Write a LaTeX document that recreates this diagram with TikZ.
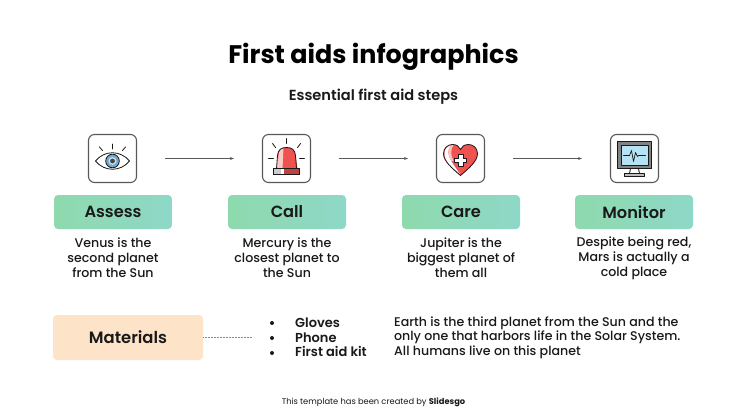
\documentclass[tikz,border=0pt]{standalone}
\usepackage{fontspec}
\setmainfont{Poppins}
\usetikzlibrary{arrows.meta}
\definecolor{ink}{HTML}{191919}
\definecolor{lineg}{HTML}{595959}
\definecolor{peach}{HTML}{FDE3C8}
\definecolor{gl}{HTML}{8FD9AE}
\definecolor{gr}{HTML}{8ED8C8}
\definecolor{redA}{HTML}{EF5350}
\definecolor{redB}{HTML}{F8A5A0}
\definecolor{blueA}{HTML}{B5E3F5}
\definecolor{blueB}{HTML}{3F7FB5}
\newfontfamily\semifont{Poppins SemiBold}
\newfontfamily\medfont{Poppins Medium}
\tikzset{
  iconbox/.style={draw=lineg,line width=1.1pt,rounded corners=6pt,minimum width=48pt,minimum height=48pt,inner sep=0pt,fill=white},
  stepbox/.style={rounded corners=4pt,minimum width=118pt,minimum height=34pt,inner sep=0pt,left color=gl,right color=gr,text=ink,font=\semifont\fontsize{16.2}{19}\selectfont},
  matbox/.style={rounded corners=4pt,minimum width=150pt,minimum height=45pt,inner sep=0pt,fill=peach,text=ink,font=\semifont\fontsize{16.4}{19}\selectfont},
  body/.style={align=center,text=ink,font=\fontsize{12.9}{15}\selectfont,inner sep=0pt},
  bodyl/.style={align=left,anchor=west,text=ink,font=\fontsize{12.9}{14.6}\selectfont,inner sep=0pt},
  link/.style={draw=lineg,line width=0.8pt,-{Stealth[length=4pt,width=3pt]},shorten <=28pt,shorten >=28pt},
  ic/.style={draw=ink,line width=0.8pt,line cap=round,line join=round},
}
\begin{document}
\begin{tikzpicture}[x=1pt,y=-1pt]
\useasboundingbox (0,0) rectangle (747,420);
\fill[white] (0,0) rectangle (747,420);
\node[inner sep=0pt,text=black,font=\fontsize{25.4}{29}\selectfont\bfseries] (title) at (373.5,57) {First aids infographics};
\node[inner sep=0pt,text=ink,font=\semifont\fontsize{14.6}{17}\selectfont] (sub) at (373.5,97) {Essential first aid steps};

\node[iconbox] (i1) at (112.5,158.5) {};
\node[iconbox] (i2) at (286.5,158.5) {};
\node[iconbox] (i3) at (460.5,158.5) {};
\node[iconbox] (i4) at (634.5,158.5) {};
\draw[link] (i1) -- (i2);
\draw[link] (i2) -- (i3);
\draw[link] (i3) -- (i4);

% eye
\begin{scope}[shift={(112.5,161)}]
\draw[ic,fill=white] (-17,0) .. controls (-8,-11) and (8,-11) .. (17,0) .. controls (8,11) and (-8,11) .. (-17,0) -- cycle;
\fill[blueB!70] (0,0) circle (6.8pt);
\draw[ic] (0,0) circle (6.8pt);
\fill[blueA] (0,0) circle (4pt);
\fill[ink!80] (0,0) circle (2.4pt);
\draw[ic] (0,-12) -- (0,-17);
\draw[ic] (-10,-10.5) -- (-13,-14);
\draw[ic] (10,-10.5) -- (13,-14);
\end{scope}

% siren
\begin{scope}[shift={(286.5,159.5)}]
\fill[redA] (-9,9) -- (-9,-4) .. controls (-9,-10) and (-5,-12) .. (0,-12) .. controls (5,-12) and (9,-10) .. (9,-4) -- (11,9) -- cycle;
\fill[redB!60!white] (-9,9) -- (-8,-4) .. controls (-7.5,-9) and (-5,-11.5) .. (-3,-11.5) -- (-4,9) -- cycle;
\draw[ic] (-10,9) -- (-9,-4) .. controls (-8.5,-10) and (-5,-12) .. (0,-12) .. controls (5,-12) and (8.5,-10) .. (9,-4) -- (10,9);
\draw[ic,fill=white] (-13,9) rectangle (13,15);
\fill[redA!80!black] (-3,9.4) rectangle (12.6,14.6);
\fill[lineg!30] (-12.6,9.4) rectangle (-6,14.6);
\draw[ic] (-13,9) rectangle (13,15);
\draw[ic] (0,-16) -- (0,-21);
\draw[ic] (-11,-12) -- (-14,-16);
\draw[ic] (11,-12) -- (14,-16);
\draw[ic] (-13,-1) -- (-18,-1);
\draw[ic] (13,-1) -- (18,-1);
\end{scope}

% heart
\begin{scope}[shift={(460.5,158.5)}]
\draw[ic,fill=redA] (0,17) .. controls (-8,10) and (-17,3) .. (-17,-5) .. controls (-17,-11) and (-12,-14) .. (-8,-14) .. controls (-4,-14) and (-1,-12) .. (0,-9) .. controls (1,-12) and (4,-14) .. (8,-14) .. controls (12,-14) and (17,-11) .. (17,-5) .. controls (17,3) and (8,10) .. (0,17) -- cycle;
\fill[white] (-0.5,15.5) .. controls (-8,9) and (-16,3) .. (-16,-5) .. controls (-16,-9) and (-13.5,-12) .. (-10,-13) .. controls (-13,-9) and (-13,-3) .. (-9,3) .. controls (-6,8) and (-3,12) .. (-0.5,15.5) -- cycle;
\fill[redB!70!white] (-10,-13) .. controls (-13,-9) and (-13,-3) .. (-9,3) -- (-7,2) .. controls (-10,-3) and (-10,-9) .. (-7,-13.5) -- cycle;
\draw[ic,fill=white] (-2.5,-4) -- (2.5,-4) -- (2.5,-0.5) -- (6,-0.5) -- (6,4) -- (2.5,4) -- (2.5,8) -- (-2.5,8) -- (-2.5,4) -- (-6,4) -- (-6,-0.5) -- (-2.5,-0.5) -- cycle;
\end{scope}

% monitor
\begin{scope}[shift={(634.5,158.5)}]
\draw[ic,fill=lineg!75] (-17,-17) rectangle (17,10);
\draw[ic,fill=blueA] (-13.5,-13) rectangle (13.5,7);
\draw[ic,line width=0.7pt] (-11,-3) -- (-5,-3) -- (-3,-8) -- (-1,3) -- (1,-6) -- (3,-2) -- (4,-3) -- (11,-3);
\draw[ic,fill=white] (-4,10) -- (4,10) -- (5,15) -- (-5,15) -- cycle;
\draw[ic,fill=lineg!40] (-10,15) rectangle (10,18);
\end{scope}

\node[stepbox] (s1) at (113,212) {Assess};
\node[stepbox] (s2) at (287,212) {Call};
\node[stepbox] (s3) at (461,212) {Care};
\node[stepbox] (s4) at (634,212) {Monitor};

\node[body,font=\medfont\fontsize{12.6}{15}\selectfont] (t1) at (113,258) {Venus is the\\second planet\\from the Sun};
\node[body,font=\medfont\fontsize{12.6}{15}\selectfont] (t2) at (287,258) {Mercury is the\\closest planet to\\the Sun};
\node[body,font=\medfont\fontsize{12.6}{15}\selectfont] (t3) at (461,258) {Jupiter is the\\biggest planet of\\them all};
\node[body,font=\medfont\fontsize{12.6}{15}\selectfont] (t4) at (634,258) {Despite being red,\\Mars is actually a\\cold place};

\node[matbox] (m) at (128,337.5) {Materials};
\coordinate (mend) at (252,337.5);
\draw[lineg!70,line width=0.5pt,densely dotted] (m.east) -- (mend);

\foreach \y in {322.5,337.5,352.5}{
  \fill[ink] (272,\y+0.5) circle (2pt);
}
\node[bodyl,font=\semifont\fontsize{13}{14.6}\selectfont] (list) at (295,337.5) {Gloves\\Phone\\First aid kit};
\node[bodyl,font=\medfont\fontsize{12.6}{14.6}\selectfont] (earth) at (394,337.5) {Earth is the third planet from the Sun and the\\only one that harbors life in the Solar System.\\All humans live on this planet};

\node[inner sep=0pt,text=ink,font=\fontsize{8.3}{10}\selectfont] (cred) at (373.5,402) {This template has been created by \textbf{Slidesgo}};
\end{tikzpicture}
\end{document}
